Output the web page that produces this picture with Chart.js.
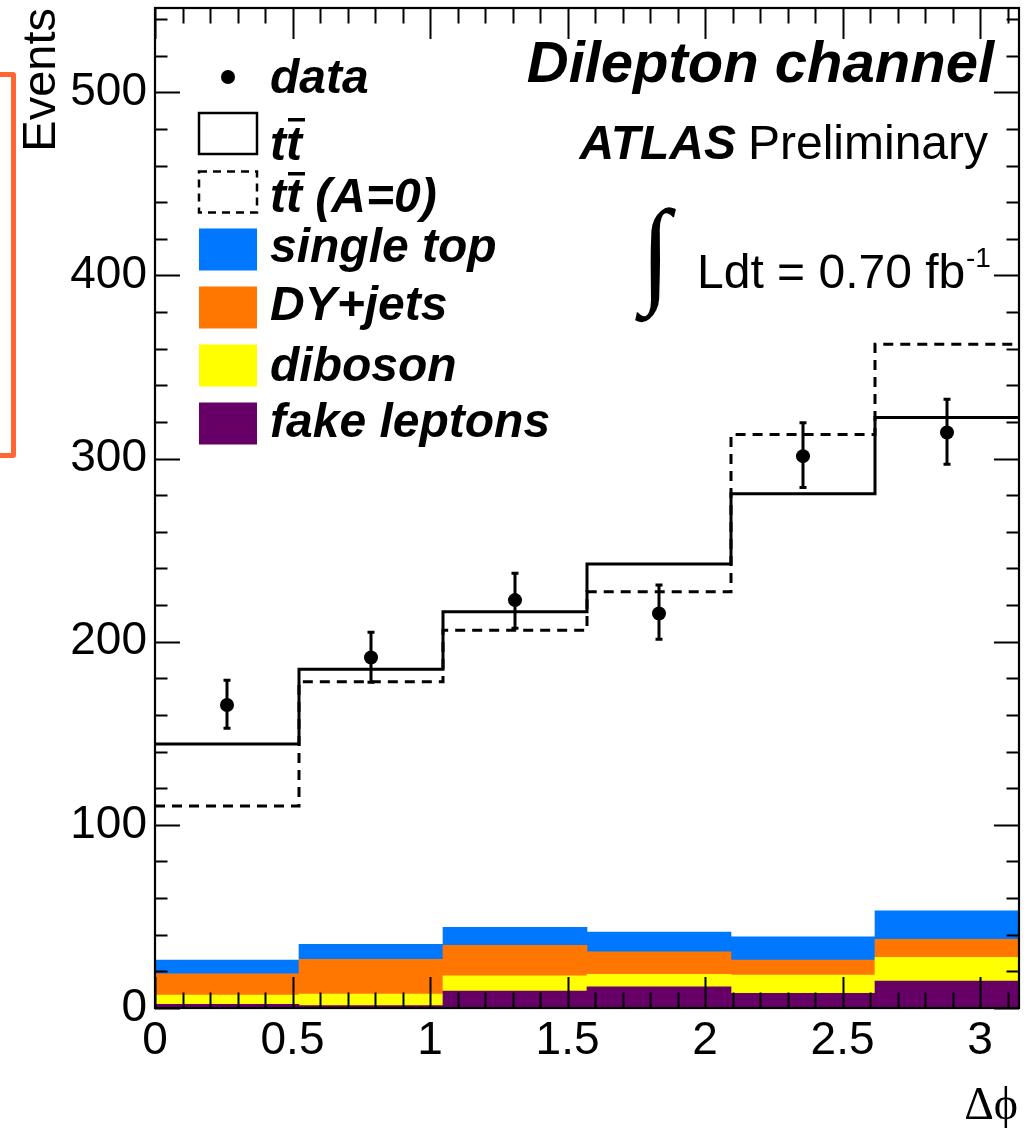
<!DOCTYPE html>
<html><head><meta charset="utf-8">
<script src="https://cdn.jsdelivr.net/npm/chart.js@4.4.1/dist/chart.umd.min.js"></script>
<style>
html,body{margin:0;padding:0;background:#fff;}
#wrap{position:relative;width:1028px;height:1128px;overflow:hidden;background:#fff;}
#mark{position:absolute;left:-12px;top:72px;width:18px;height:376px;border:5px solid #ff6633;border-radius:3px;}
</style></head><body>
<div id="wrap"><canvas id="c" width="1028" height="1128"></canvas><div id="mark"></div></div>
<script>
// ---- data ----
const binEdges   = [0, 0.5236, 1.0472, 1.5708, 2.0944, 2.6180, 3.1416];
const binCenters = [0.2618, 0.7854, 1.3090, 1.8326, 2.3562, 2.8798];
const xTickLabels = [0, 0.5, 1, 1.5, 2, 2.5, 3];
const yTickLabels = [0, 100, 200, 300, 400, 500];
const yMax = 546;
const fakeLeptons = [2.0, 1.3, 9.3, 11.6, 8.0, 14.7];
const diboson     = [5.1, 6.3, 8.2, 6.8, 10.0, 13.0];
const dyJets      = [11.5, 19.0, 16.7, 12.3, 8.2, 9.8];
const singleTop   = [7.6, 8.2, 9.8, 10.8, 12.7, 15.6];
const ttTotal     = [144.1, 184.9, 216.3, 242.4, 280.8, 322.4];
const ttA0        = [110.3, 178.1, 206.3, 227.3, 313.1, 362.4];
const dataVals    = [165.4, 191.4, 222.7, 215.4, 301.3, 314.2];
const dataErrUp   = [13.6, 13.8, 14.7, 15.5, 18.2, 18.2];
const dataErrDown = [12.7, 13.6, 15.3, 14.1, 17.1, 17.3];

const COLORS = {single:'#0077ff', dy:'#ff7700', dib:'#ffff00', fake:'#660066'};
const FONT = '"Liberation Sans", Arial, Helvetica, sans-serif';

function barPts(vals){ return binCenters.map((x,i)=>({x:x, y:vals[i]})); }
function stepPts(vals){
  const p = binEdges.slice(0,vals.length).map((x,i)=>({x:x, y:vals[i]}));
  p.push({x:binEdges[vals.length], y:vals[vals.length-1]});
  return p;
}

const decor = {
  id:'decor',
  afterDatasetsDraw(chart){
    const ctx = chart.ctx, xs = chart.scales.x, ys = chart.scales.y;
    ctx.save();
    ctx.strokeStyle = '#000'; ctx.lineWidth = 3;
    for (let i=0;i<dataVals.length;i++){
      const x = xs.getPixelForValue(binCenters[i]);
      const y1 = ys.getPixelForValue(dataVals[i]+dataErrUp[i]);
      const y2 = ys.getPixelForValue(dataVals[i]-dataErrDown[i]);
      ctx.beginPath(); ctx.moveTo(x,y1); ctx.lineTo(x,y2);
      ctx.moveTo(x-3.5,y1); ctx.lineTo(x+3.5,y1);
      ctx.moveTo(x-3.5,y2); ctx.lineTo(x+3.5,y2);
      ctx.stroke();
    }
    ctx.restore();
  },
  afterDraw(chart){
    const ctx = chart.ctx, xs = chart.scales.x, ys = chart.scales.y, a = chart.chartArea;
    ctx.save();
    // ticks
    ctx.strokeStyle = '#000'; ctx.lineWidth = 2;
    ctx.beginPath();
    for (let v=0; v<=yMax; v+=20){
      const y = Math.round(ys.getPixelForValue(v))+0.5;
      const len = (v%100===0)?25:12.5;
      ctx.moveTo(a.left,y); ctx.lineTo(a.left+len,y);
      ctx.moveTo(a.right,y); ctx.lineTo(a.right-len,y);
    }
    for (let k=0; k<=31; k++){
      const v = k/10;
      const x = Math.round(xs.getPixelForValue(v))+0.5;
      const len = (k%5===0)?31:15.5;
      ctx.moveTo(x,a.bottom); ctx.lineTo(x,a.bottom-len);
      ctx.moveTo(x,a.top); ctx.lineTo(x,a.top+len);
    }
    ctx.stroke();
    // frame
    ctx.lineWidth = 2.2;
    ctx.strokeRect(a.left, a.top, a.right-a.left, a.bottom-a.top);

    ctx.fillStyle = '#000';
    // y title
    ctx.save();
    ctx.translate(55, 8); ctx.rotate(-Math.PI/2);
    ctx.font = '47px '+FONT; ctx.textAlign='right'; ctx.textBaseline='alphabetic';
    ctx.fillText('Events', 0, 0);
    ctx.restore();
    // x title
    ctx.font = '46px "Liberation Serif", "DejaVu Serif", serif';
    ctx.textAlign='right'; ctx.textBaseline='alphabetic';
    ctx.fillText('\u0394\u03d5', 1018, 1119);

    // channel
    ctx.font = 'italic bold 58px '+FONT;
    ctx.textAlign='right';
    ctx.fillText('Dilepton channel', 994, 82);
    // ATLAS Preliminary
    ctx.font = '48px '+FONT;
    const wp = ctx.measureText('Preliminary').width;
    ctx.fillText('Preliminary', 988, 159);
    ctx.font = 'italic bold 48px '+FONT;
    ctx.fillText('ATLAS', 988-wp-12, 159);
    // luminosity
    ctx.textAlign='left';
    ctx.font = '96px "Liberation Serif", serif';
    ctx.save();
    ctx.translate(641, 291); ctx.scale(1.12, 1.22);
    ctx.fillText('\u222b', 0, 0);
    ctx.restore();
    ctx.font = '48px '+FONT;
    ctx.fillText('Ldt = 0.70 fb', 697, 288);
    ctx.font = '28px '+FONT;
    ctx.fillText('-1', 966, 267);

    // legend
    const lx = 199, lw = 58, tx = 270;
    const rows = [
      {t:'data', kind:'dot', cy:77, base:93},
      {t:'tt', kind:'solid', cy:133.5, base:160, bar:42},
      {t:'tt (A=0)', kind:'dash', cy:192, base:212, bar:40},
      {t:'single top', kind:'fill', c:COLORS.single, cy:249, base:262},
      {t:'DY+jets', kind:'fill', c:COLORS.dy, cy:307, base:320},
      {t:'diboson', kind:'fill', c:COLORS.dib, cy:365, base:381},
      {t:'fake leptons', kind:'fill', c:COLORS.fake, cy:423, base:437}
    ];
    ctx.font = 'italic bold 48px '+FONT;
    const wt = ctx.measureText('t').width;
    rows.forEach(r=>{
      const top = r.cy-20.5;
      if (r.kind==='dot'){
        ctx.beginPath(); ctx.arc(lx+lw/2, r.cy, 7, 0, Math.PI*2); ctx.fill();
      } else if (r.kind==='solid'){
        ctx.lineWidth=2.5; ctx.setLineDash([]);
        ctx.strokeRect(lx, top, lw, 41);
      } else if (r.kind==='dash'){
        ctx.lineWidth=2.5; ctx.setLineDash([8,6]);
        ctx.strokeRect(lx, top, lw, 41);
        ctx.setLineDash([]);
      } else {
        ctx.fillStyle = r.c; ctx.fillRect(lx, top, lw, 42); ctx.fillStyle='#000';
      }
      ctx.fillText(r.t, tx, r.base);
      if (r.bar){
        ctx.fillRect(tx+wt+2, r.base-r.bar, wt+1, 3.5);
      }
    });
    ctx.restore();
  }
};

const chart = new Chart(document.getElementById('c'), {
  type:'bar',
  data:{ datasets:[
    {type:'line', label:'data', data:barPts(dataVals), showLine:false, pointRadius:7, pointHoverRadius:7,
     pointBackgroundColor:'#000', pointBorderWidth:0, borderColor:'#000'},
    {type:'line', label:'tt', data:stepPts(ttTotal), stepped:'before', borderColor:'#000', borderWidth:3,
     pointRadius:0, fill:false, tension:0},
    {type:'line', label:'tt (A=0)', data:stepPts(ttA0), stepped:'before', borderColor:'#000', borderWidth:3,
     borderDash:[10,7], pointRadius:0, fill:false, tension:0},
    {label:'fake leptons', data:barPts(fakeLeptons), backgroundColor:COLORS.fake, stack:'bkg', borderWidth:0},
    {label:'diboson', data:barPts(diboson), backgroundColor:COLORS.dib, stack:'bkg', borderWidth:0},
    {label:'DY+jets', data:barPts(dyJets), backgroundColor:COLORS.dy, stack:'bkg', borderWidth:0},
    {label:'single top', data:barPts(singleTop), backgroundColor:COLORS.single, stack:'bkg', borderWidth:0}
  ]},
  options:{
    responsive:false, animation:false, devicePixelRatio:1,
    barPercentage:1.0, categoryPercentage:1.0, barThickness:'flex',
    layout:{padding:{top:8, right:9, left:0, bottom:0}},
    plugins:{legend:{display:false}, tooltip:{enabled:false}, title:{display:false}},
    scales:{
      x:{type:'linear', min:binEdges[0], max:binEdges[binEdges.length-1], offset:false,
         grid:{display:false, drawTicks:false}, border:{display:false},
         afterBuildTicks(s){ s.ticks = xTickLabels.map(v=>({value:v})); },
         afterFit(s){ s.height = 120; s.paddingLeft = 0; s.paddingRight = 0; },
         ticks:{autoSkip:false, maxRotation:0, padding:6, color:'#000', font:{family:FONT, size:46},
                callback:(v)=>String(v)}},
      y:{type:'linear', min:0, max:yMax,
         grid:{display:false, drawTicks:false}, border:{display:false},
         afterBuildTicks(s){ s.ticks = yTickLabels.map(v=>({value:v})); },
         afterFit(s){ s.width = 155; s.paddingTop = 0; s.paddingBottom = 0; },
         ticks:{padding:8, color:'#000', font:{family:FONT, size:46}, callback:(v)=>String(v)}}
    }
  },
  plugins:[decor]
});
</script>
</body></html>
